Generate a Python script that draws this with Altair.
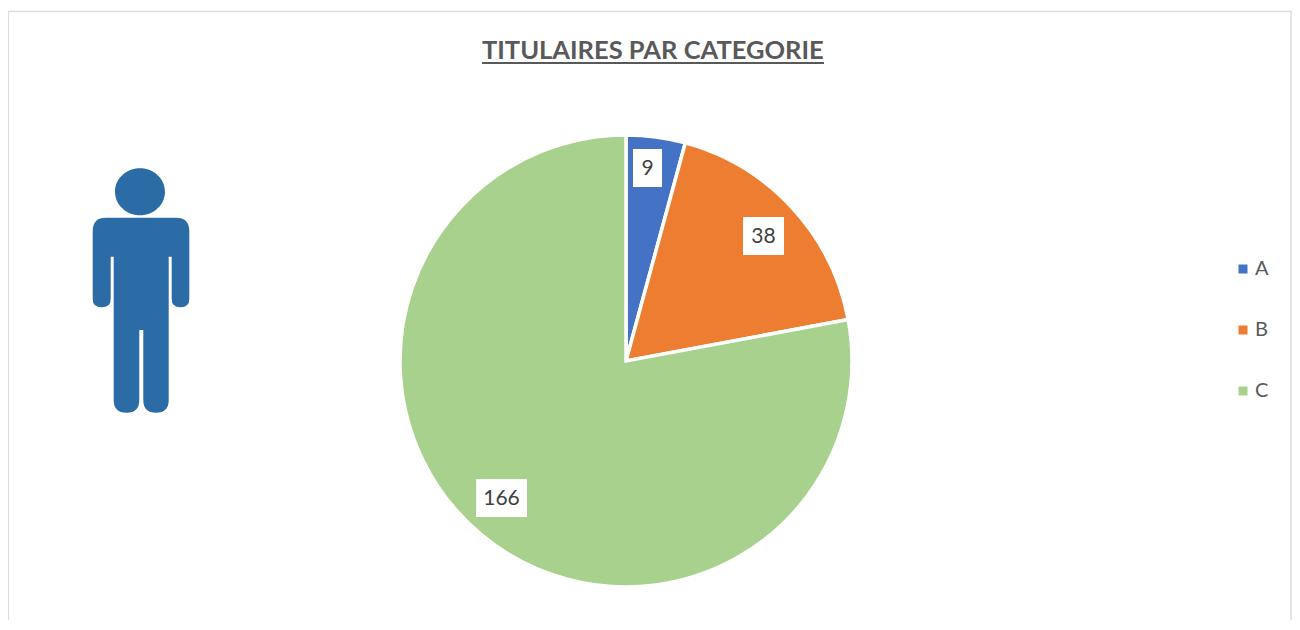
import altair as alt
import pandas as pd

categories = ["A", "B", "C"]
values = [9, 38, 166]
colors = ["#4472C4", "#ED7D31", "#A9D18E"]
title_text = "TITULAIRES PAR CATEGORIE"

df = pd.DataFrame({"cat": categories, "val": values})
FONT = "Lato"
CX, CY = 618, 353
BOTTOM = 612
RIGHT = 1284
blank = alt.Data(values=[{}])

# white label boxes in chart pixels: x0, x1, y0, y1
boxes = [(625, 654, 141, 179), (735, 776, 209, 247), (468, 519, 471, 509)]

person = (
    "M-35,-97.3 L35,-97.3 Q48.3,-97.3 48.3,-84 L48.3,-16 Q48.3,-7.7 39.5,-7.7 Q30.7,-7.7 30.7,-16 "
    "L30.7,-58.3 L27.7,-58.3 L27.7,85 Q27.7,97.7 15,97.7 Q2.3,97.7 2.3,85 L2.3,15 L-1.7,15 L-1.7,85 "
    "Q-1.7,97.7 -14.5,97.7 Q-27.3,97.7 -27.3,85 L-27.3,-58.3 L-30.3,-58.3 L-30.3,-16 Q-30.3,-7.7 -39.3,-7.7 "
    "Q-48.3,-7.7 -48.3,-16 L-48.3,-84 Q-48.3,-97.3 -35,-97.3 Z "
    "M-26,-123.3 A25,23.5 0 1 1 24,-123.3 A25,23.5 0 1 1 -26,-123.3 Z"
)

frame_color = "#DDDDDD"
layers = [
    alt.Chart(blank).mark_rule(color=frame_color, strokeWidth=2).encode(x=alt.value(0), y=alt.value(3), y2=alt.value(BOTTOM)),
    alt.Chart(blank).mark_rule(color=frame_color, strokeWidth=1.5).encode(x=alt.value(0), x2=alt.value(RIGHT), y=alt.value(3.5)),
    alt.Chart(blank).mark_rule(color=frame_color, strokeWidth=1.5).encode(x=alt.value(RIGHT - 1), y=alt.value(3), y2=alt.value(BOTTOM)),
    alt.Chart(blank).mark_rule(color="#595959", strokeWidth=2).encode(x=alt.value(474), x2=alt.value(816), y=alt.value(55)),
    alt.Chart(blank).mark_point(shape=person, filled=True, opacity=1, color="#2B6CA6", size=4, strokeWidth=0).encode(
        x=alt.value(133), y=alt.value(307)
    ),
    alt.Chart(df).mark_arc(outerRadius=226, stroke="white", strokeWidth=3.5).encode(
        theta=alt.Theta("val:Q", stack=True),
        order=alt.Order("cat:N"),
        x=alt.value(CX),
        y=alt.value(CY),
        color=alt.Color(
            "cat:N",
            scale=alt.Scale(domain=categories, range=colors),
            legend=alt.Legend(
                title=None,
                orient="none",
                legendX=1225,
                legendY=251,
                symbolType="square",
                symbolSize=81,
                symbolStrokeWidth=0,
                labelFont=FONT,
                labelFontSize=20,
                labelColor="#595959",
                labelOffset=2,
                rowPadding=41,
            ),
        ),
    ),
]

for cat, (x0, x1, y0, y1) in zip(categories, boxes):
    sub = df[df["cat"] == cat]
    layers.append(
        alt.Chart(sub).mark_rect(color="white").encode(
            x=alt.value(x0), x2=alt.value(x1), y=alt.value(y0), y2=alt.value(y1)
        )
    )
    layers.append(
        alt.Chart(sub).mark_text(font=FONT, fontSize=21, color="#404040", align="center", baseline="middle", dy=1).encode(
            x=alt.value((x0 + x1) / 2), y=alt.value((y0 + y1) / 2), text="val:Q"
        )
    )

chart = alt.layer(*layers).properties(
    width=RIGHT,
    height=BOTTOM,
    padding=0,
    autosize=alt.AutoSizeParams(type="none"),
    background="white",
    title=alt.TitleParams(
        title_text,
        font=FONT,
        fontSize=25.5,
        fontWeight="bold",
        color="#595959",
        anchor="start",
        frame="group",
        orient="top",
        offset=0,
        dx=474,
        dy=56,
    ),
).configure_view(stroke=None)

chart.save("out.html", embed_options={"renderer": "svg", "actions": False})
